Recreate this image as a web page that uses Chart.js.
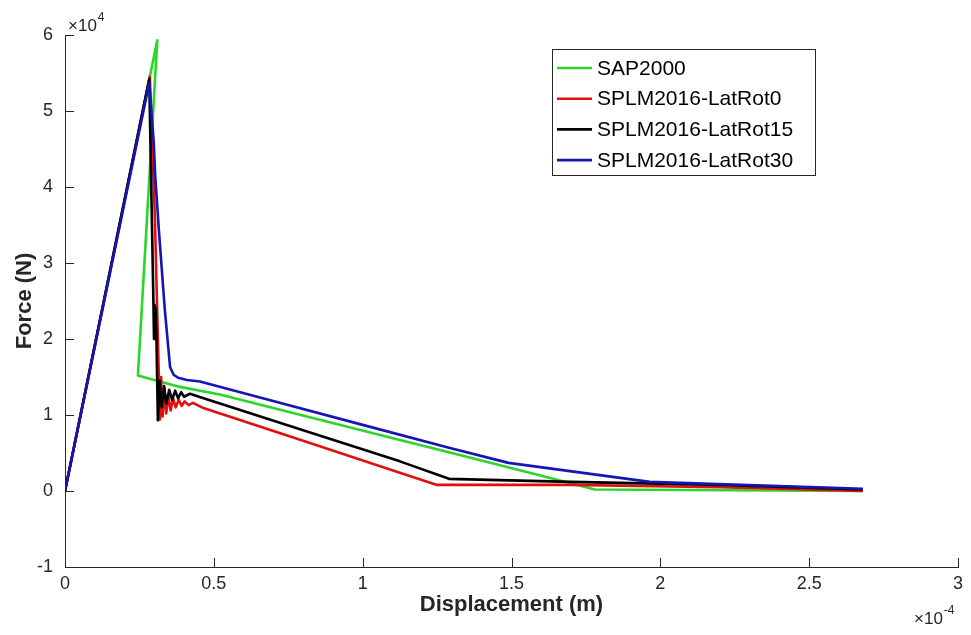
<!DOCTYPE html>
<html>
<head>
<meta charset="utf-8">
<title>Force vs Displacement</title>
<script src="https://cdn.jsdelivr.net/npm/chart.js@4.4.0/dist/chart.umd.min.js"></script>
<style>
  html, body { margin: 0; padding: 0; background: #fff; }
  #wrap { width: 971px; height: 635px; position: relative; }
</style>
</head>
<body>
<div id="wrap"><canvas id="chart" width="971" height="635"></canvas></div>
<script>
// displacement in 1e-4 m, force in 1e4 N (exponents are shown next to the axes)
const seriesNames = ["SAP2000", "SPLM2016-LatRot0", "SPLM2016-LatRot15", "SPLM2016-LatRot30"];
const seriesColors = ["#2bd62b", "#e01010", "#000000", "#1515b5"];

const sapX = [0, 0.310, 0.245, 0.386, 0.520, 1.125, 1.290, 1.630, 1.780, 2.680];
const sapY = [0, 5.93, 1.52, 1.37, 1.27, 0.67, 0.51, 0.17, 0.02, 0.00];

const rot0X = [0, 0.285, 0.302, 0.312, 0.319, 0.323, 0.328, 0.334, 0.340, 0.347, 0.355, 0.363,
  0.372, 0.382, 0.392, 0.402, 0.415, 0.430, 0.460, 0.800, 1.125, 1.250, 1.700, 2.200, 2.680];
const rot0Y = [0, 5.45, 3.60, 2.00, 0.94, 1.50, 0.98, 1.35, 1.02, 1.25, 1.06, 1.22,
  1.10, 1.20, 1.12, 1.18, 1.13, 1.16, 1.10, 0.66, 0.24, 0.08, 0.08, 0.05, 0.00];

const rot15X = [0, 0.283, 0.297, 0.299, 0.301, 0.303, 0.305, 0.307, 0.312, 0.318, 0.325, 0.333,
  0.340, 0.350, 0.360, 0.370, 0.380, 0.390, 0.400, 0.420, 0.450, 0.800, 1.125, 1.290, 1.700,
  2.200, 2.680];
const rot15Y = [0, 5.42, 2.50, 2.00, 2.45, 2.00, 2.40, 2.05, 0.93, 1.45, 1.10, 1.38,
  1.15, 1.33, 1.20, 1.32, 1.22, 1.30, 1.24, 1.28, 1.24, 0.80, 0.39, 0.16, 0.12,
  0.08, 0.02];

const rot30X = [0, 0.283, 0.298, 0.303, 0.316, 0.335, 0.353, 0.365, 0.380, 0.410, 0.453, 0.655,
  1.000, 1.290, 1.490, 1.965, 2.680];
const rot30Y = [0, 5.37, 4.60, 4.15, 3.40, 2.40, 1.63, 1.53, 1.49, 1.46, 1.44, 1.23,
  0.87, 0.57, 0.37, 0.12, 0.03];

const xTickValues = [0, 0.5, 1, 1.5, 2, 2.5, 3];
const yTickValues = [-1, 0, 1, 2, 3, 4, 5, 6];

const FONT = "'Liberation Sans', Arial, Helvetica, sans-serif";
const INK = "#262626";

const toPoints = (xs, ys) => xs.map((x, i) => ({ x: x, y: ys[i] }));
const allX = [sapX, rot0X, rot15X, rot30X];
const allY = [sapY, rot0Y, rot15Y, rot30Y];

const datasets = seriesNames.map((name, i) => ({
  label: name,
  data: toPoints(allX[i], allY[i]),
  borderColor: seriesColors[i],
  backgroundColor: seriesColors[i],
  borderWidth: 2.6,
  borderJoinStyle: "round",
  pointRadius: 0,
  tension: 0,
  fill: false,
  order: seriesNames.length - i // later series sit on top, like the plot order
}));

// inward tick marks, exponent labels and the boxed legend
const decorations = {
  id: "decorations",
  afterDraw(chart) {
    const { ctx, chartArea: a, scales: { x, y } } = chart;
    ctx.save();
    ctx.strokeStyle = INK;
    ctx.lineWidth = 1;
    xTickValues.forEach(v => {
      const px = Math.round(x.getPixelForValue(v)) + 0.5;
      ctx.beginPath();
      ctx.moveTo(px, a.bottom);
      ctx.lineTo(px, a.bottom - 9);
      ctx.stroke();
    });
    yTickValues.forEach(v => {
      const py = Math.round(y.getPixelForValue(v)) + 0.5;
      ctx.beginPath();
      ctx.moveTo(a.left, py);
      ctx.lineTo(a.left + 9, py);
      ctx.stroke();
    });

    // exponents
    ctx.fillStyle = INK;
    ctx.textBaseline = "alphabetic";
    ctx.textAlign = "left";
    ctx.font = "17px " + FONT;
    ctx.fillText("\u00d710", a.left + 3, a.top - 4);
    let w = ctx.measureText("\u00d710").width;
    ctx.font = "12px " + FONT;
    ctx.fillText("4", a.left + 3 + w + 1, a.top - 14);

    ctx.font = "17px " + FONT;
    ctx.fillText("\u00d710", a.right - 44, 624);
    w = ctx.measureText("\u00d710").width;
    ctx.font = "12px " + FONT;
    ctx.fillText("-4", a.right - 44 + w + 1, 614);

    // legend
    const box = { left: 552, top: 49, width: 263, height: 126 };
    ctx.fillStyle = "#ffffff";
    ctx.fillRect(box.left, box.top, box.width, box.height);
    ctx.strokeStyle = INK;
    ctx.strokeRect(box.left + 0.5, box.top + 0.5, box.width, box.height);
    ctx.font = "21px " + FONT;
    ctx.textBaseline = "middle";
    chart.data.datasets.forEach((ds, i) => {
      const ry = box.top + 19 + i * 30.7;
      ctx.strokeStyle = ds.borderColor;
      ctx.lineWidth = 2.6;
      ctx.beginPath();
      ctx.moveTo(box.left + 5, ry);
      ctx.lineTo(box.left + 40, ry);
      ctx.stroke();
      ctx.fillStyle = "#000000";
      ctx.fillText(ds.label, box.left + 45, ry + 1);
    });
    ctx.restore();
  }
};

new Chart(document.getElementById("chart"), {
  type: "line",
  data: { datasets: datasets },
  plugins: [decorations],
  options: {
    responsive: false,
    animation: false,
    devicePixelRatio: 1,
    layout: { padding: { top: 35, right: 13, bottom: 0, left: 0 } },
    plugins: {
      legend: { display: false },
      tooltip: { enabled: false }
    },
    scales: {
      x: {
        type: "linear",
        min: 0,
        max: 3,
        afterBuildTicks: s => { s.ticks = xTickValues.map(v => ({ value: v })); },
        afterFit: s => { s.height = 68; },
        grid: { display: false, drawTicks: false },
        border: { display: true, color: INK, width: 1 },
        ticks: {
          font: { family: FONT, size: 18 },
          color: INK,
          padding: 6,
          maxRotation: 0,
          autoSkip: false,
          callback: v => String(v)
        },
        title: {
          display: true,
          text: "Displacement (m)",
          color: INK,
          font: { family: FONT, size: 22, weight: "bold" },
          padding: { top: 0, bottom: 17 }
        }
      },
      y: {
        type: "linear",
        min: -1,
        max: 6,
        afterBuildTicks: s => { s.ticks = yTickValues.map(v => ({ value: v })); },
        afterFit: s => { s.width = 65; },
        grid: { display: false, drawTicks: false },
        border: { display: true, color: INK, width: 1 },
        ticks: {
          font: { family: FONT, size: 18 },
          color: INK,
          padding: 12,
          autoSkip: false,
          callback: v => String(v)
        },
        title: {
          display: true,
          text: "Force (N)",
          color: INK,
          font: { family: FONT, size: 22, weight: "bold" },
          padding: { top: 12, bottom: 0 }
        }
      }
    }
  }
});
</script>
</body>
</html>
